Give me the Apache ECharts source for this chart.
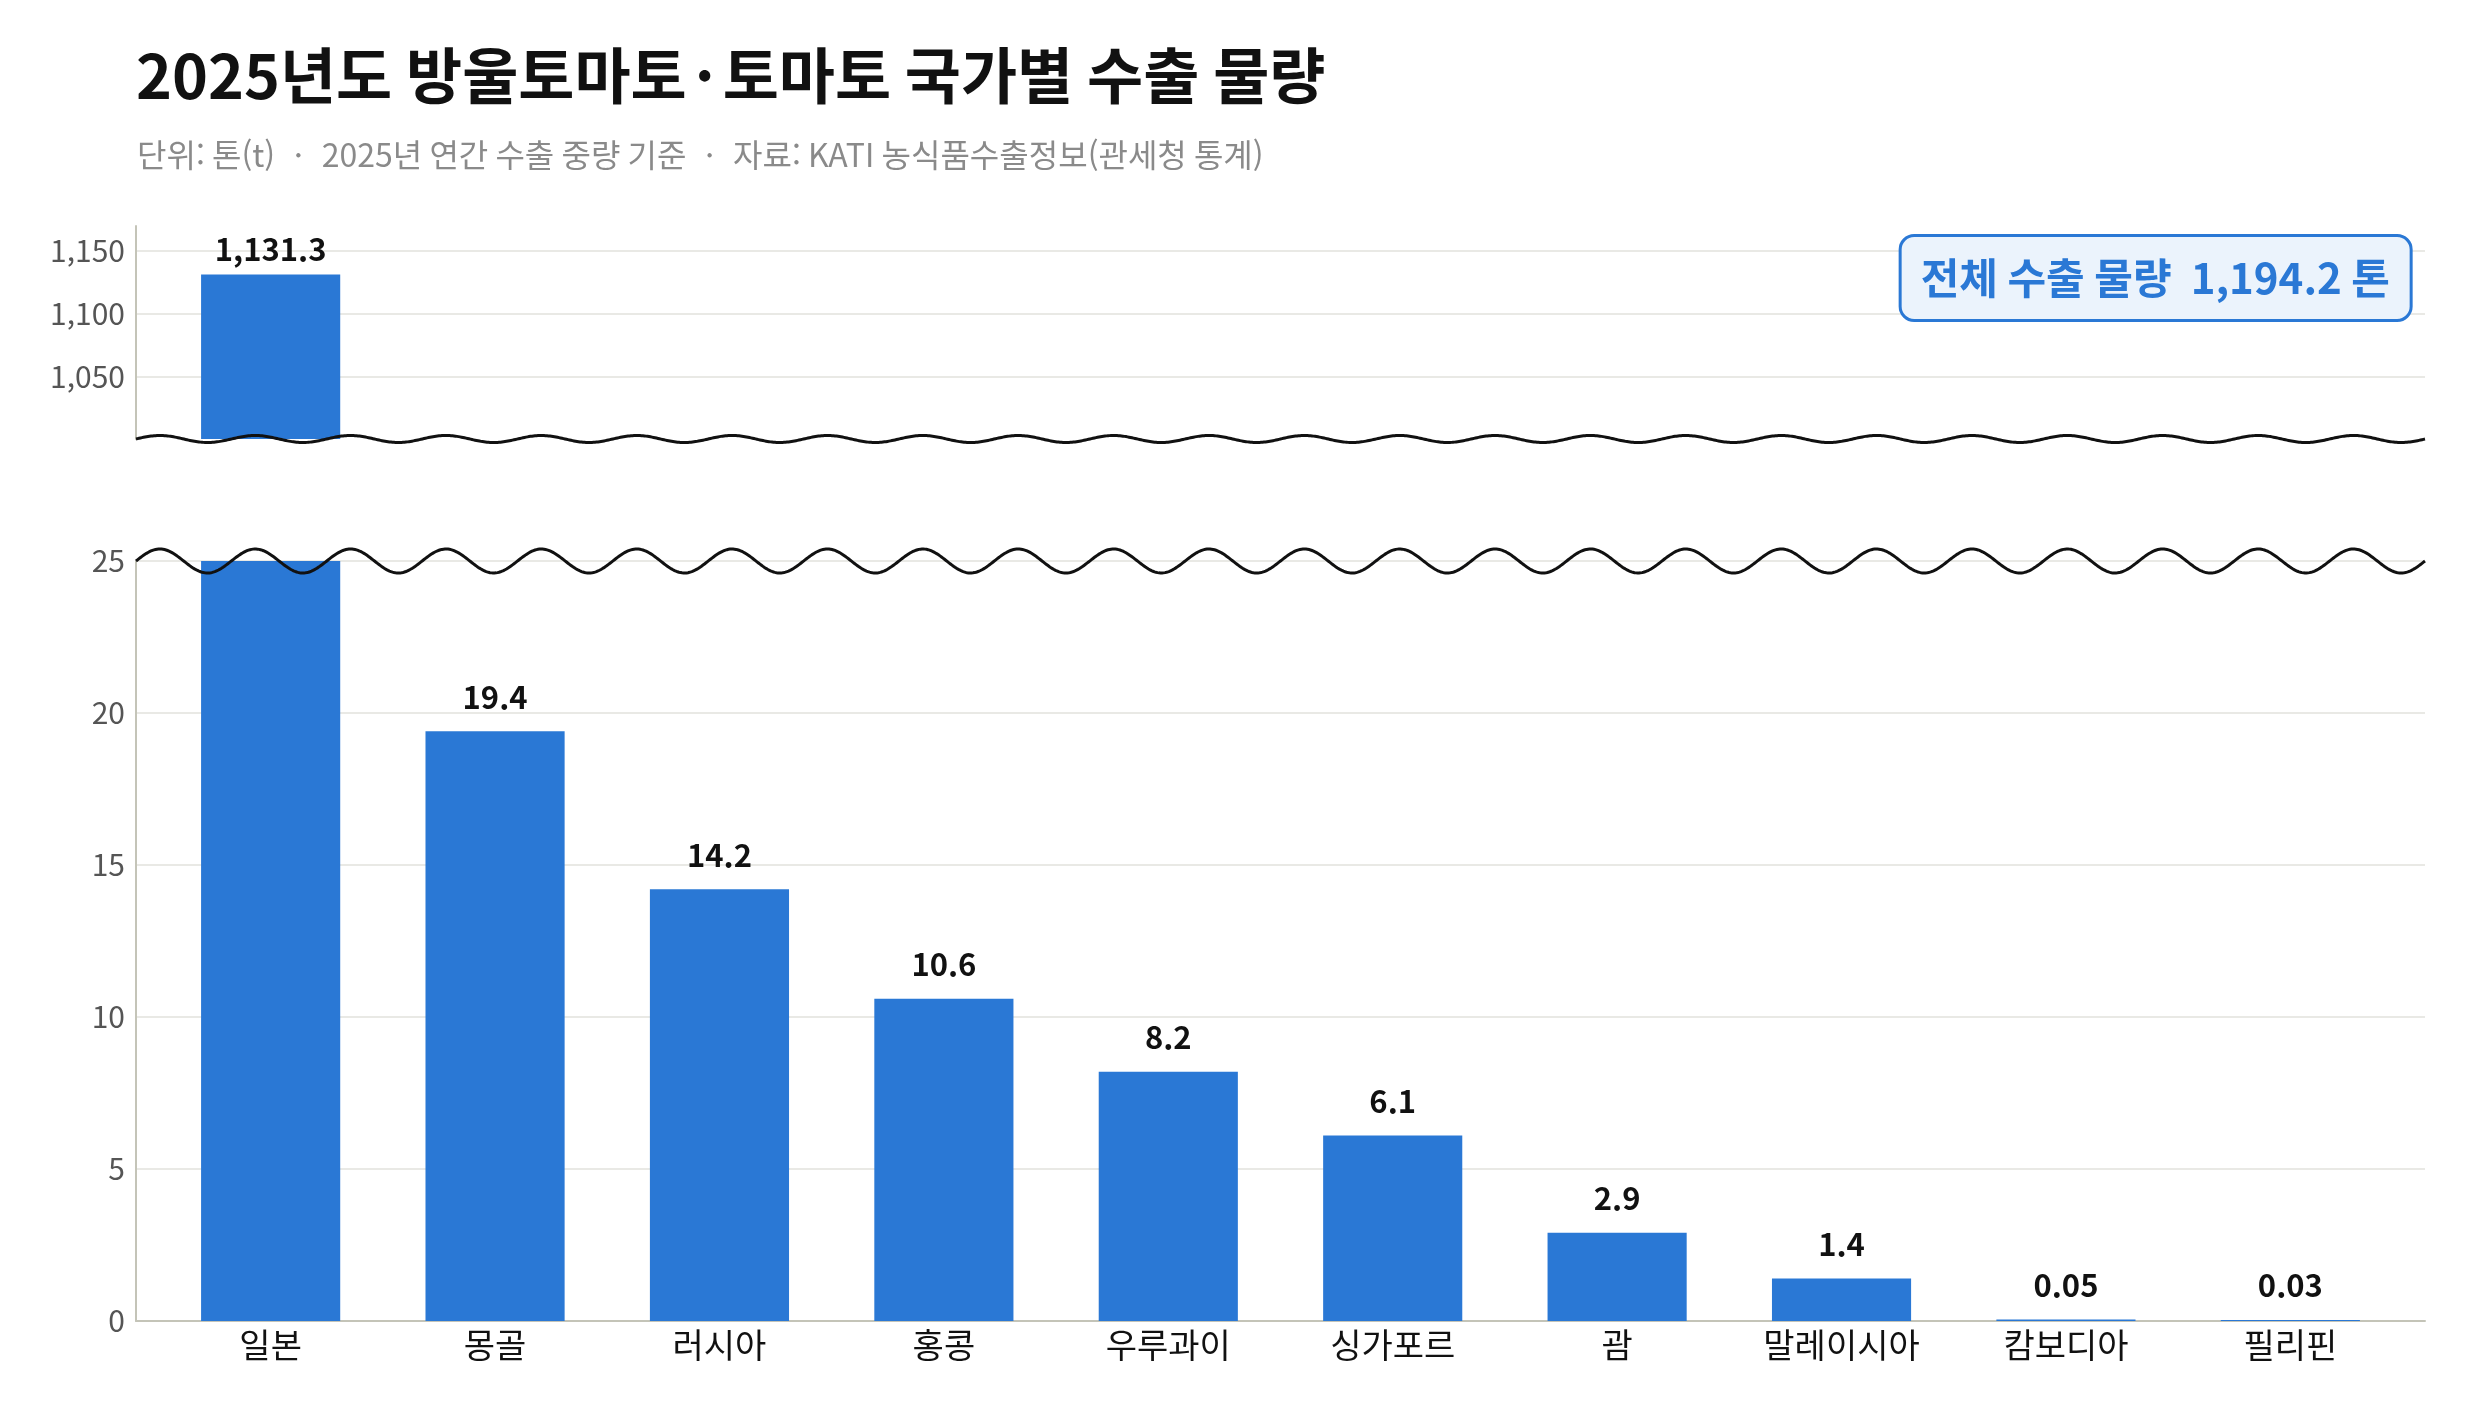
<!DOCTYPE html>
<html lang="ko">
<head>
    <meta charset="UTF-8">
    <title>2025년도 방울토마토·토마토 국가별 수출 물량</title>
    <script src="https://cdn.jsdelivr.net/npm/echarts@6/dist/echarts.min.js"></script>
    <style>
        html, body { margin: 0; padding: 0; background: #fff; }
        #main { width: 2474px; height: 1416px; }
    </style>
</head>
<body>
    <div id="main"></div>
    <script>
        // 데이터
        var countries = ['일본', '몽골', '러시아', '홍콩', '우루과이', '싱가포르', '괌', '말레이시아', '캄보디아', '필리핀'];
        var volumes = [1131.3, 19.4, 14.2, 10.6, 8.2, 6.1, 2.9, 1.4, 0.05, 0.03];
        var totalVolume = 1194.2;
        var upperRange = [1000, 1170];   // 위쪽 구간 (일본만)
        var lowerRange = [0, 25];        // 아래쪽 구간
        var upperStep = 50;
        var lowerStep = 5;

        var FONT = '"Noto Sans CJK KR", "Noto Sans", sans-serif';
        var BLUE = '#2a78d5';
        var AXIS = '#c4c4b8';
        var GRID = '#e2e2dc';

        var chartDom = document.getElementById('main');
        var myChart = echarts.init(chartDom);

        // 숫자 포맷
        function fmtValue(v) {
            if (v < 1) return v.toFixed(2);
            return v.toLocaleString('en-US', { minimumFractionDigits: 1, maximumFractionDigits: 1 });
        }

        function xAxisFor(idx, showLabels) {
            return {
                type: 'value',
                gridIndex: idx,
                min: -0.6,
                max: 9.6,
                splitLine: { show: false },
                axisTick: { show: false },
                axisLine: { show: showLabels, onZero: false, lineStyle: { color: AXIS, width: 2 } },
                axisLabel: {
                    show: showLabels,
                    customValues: countries.map(function (c, i) { return i; }),
                    formatter: function (v) { return countries[v] || ''; },
                    fontFamily: FONT,
                    fontSize: 34,
                    color: '#111',
                    margin: 7
                }
            };
        }

        function barLabel(dist) {
            return {
                position: 'top',
                distance: dist,
                fontFamily: FONT,
                fontSize: 31,
                fontWeight: 'bold',
                color: '#111',
                formatter: function (p) { return fmtValue(p.value[1]); }
            };
        }

        var option = {
            animation: false,
            backgroundColor: '#fff',
            title: [{
                text: '2025년도 방울토마토{d|·}토마토 국가별 수출 물량',
                left: 136,
                top: 40,
                padding: 0,
                textStyle: {
                    fontFamily: FONT, fontSize: 61, fontWeight: 'bold', color: '#111', lineHeight: 72,
                    rich: {
                        d: { fontFamily: FONT, fontSize: 61, fontWeight: 'bold', color: '#111', width: 36, align: 'center' }
                    }
                }
            }, {
                text: '단위: 톤(t)  ·  2025년 연간 수출 중량 기준  ·  자료: KATI 농식품수출정보(관세청 통계)',
                left: 137,
                top: 135,
                padding: 0,
                textStyle: { fontFamily: FONT, fontSize: 32, fontWeight: 'normal', color: '#8a8a8a', lineHeight: 40 }
            }, {
                text: '전체 수출 물량  ' + totalVolume.toLocaleString('en-US', { minimumFractionDigits: 1 }) + ' 톤',
                right: 63,
                top: 235,
                padding: [20, 21],
                backgroundColor: '#ebf3fc',
                borderColor: BLUE,
                borderWidth: 3,
                borderRadius: 14,
                textStyle: { fontFamily: FONT, fontSize: 42, fontWeight: 'bold', color: BLUE, lineHeight: 46 }
            }],
            grid: [
                { left: 136, right: 49, top: 226, height: 213 },
                { left: 136, right: 49, top: 561, height: 760 }
            ],
            xAxis: [xAxisFor(0, false), xAxisFor(1, true)],
            yAxis: [{
                type: 'value',
                gridIndex: 0,
                min: upperRange[0],
                max: upperRange[1],
                interval: upperStep,
                axisLine: { show: true, onZero: false, lineStyle: { color: AXIS, width: 2 } },
                axisTick: { show: false },
                axisLabel: {
                    fontFamily: FONT, fontSize: 30, color: '#555', margin: 11,
                    formatter: function (v) {
                        return (v > upperRange[0] && v % upperStep === 0) ? v.toLocaleString('en-US') : '';
                    }
                },
                splitLine: { show: true, showMinLine: false, showMaxLine: false, lineStyle: { color: GRID, width: 1.6 } }
            }, {
                type: 'value',
                gridIndex: 1,
                min: lowerRange[0],
                max: lowerRange[1],
                interval: lowerStep,
                axisLine: { show: true, onZero: false, lineStyle: { color: AXIS, width: 2 } },
                axisTick: { show: false },
                axisLabel: { fontFamily: FONT, fontSize: 30, color: '#555', margin: 11 },
                splitLine: { show: true, showMinLine: false, lineStyle: { color: GRID, width: 1.6 } }
            }],
            series: [{
                type: 'bar',
                xAxisIndex: 0,
                yAxisIndex: 0,
                barWidth: '62%',
                clip: true,
                itemStyle: { color: BLUE },
                label: barLabel(10),
                data: volumes.map(function (v, i) {
                    return { value: [i, v], label: { show: v > upperRange[0] } };
                })
            }, {
                type: 'bar',
                xAxisIndex: 1,
                yAxisIndex: 1,
                barWidth: '62%',
                clip: true,
                itemStyle: { color: BLUE },
                label: barLabel(19),
                data: volumes.map(function (v, i) {
                    return { value: [i, v], label: { show: v <= lowerRange[1] } };
                })
            }]
        };

        myChart.setOption(option);

        // 축 생략 표시(물결선)
        function wave(idx, yValue, amp) {
            var finder = { xAxisIndex: idx, yAxisIndex: idx };
            var a = myChart.convertToPixel(finder, [-0.6, yValue]);
            var b = myChart.convertToPixel(finder, [9.6, yValue]);
            var period = (b[0] - a[0]) / 24;
            var pts = [];
            for (var x = a[0]; x <= b[0] + 0.01; x += 1.5) {
                pts.push([x, a[1] - amp * Math.sin(2 * Math.PI * (x - a[0]) / period)]);
            }
            return {
                type: 'polyline',
                z: 100,
                shape: { points: pts },
                style: { stroke: '#111', lineWidth: 3, fill: null }
            };
        }

        myChart.setOption({
            graphic: [wave(0, upperRange[0], 3.5), wave(1, lowerRange[1], 12)]
        });
    </script>
</body>
</html>
